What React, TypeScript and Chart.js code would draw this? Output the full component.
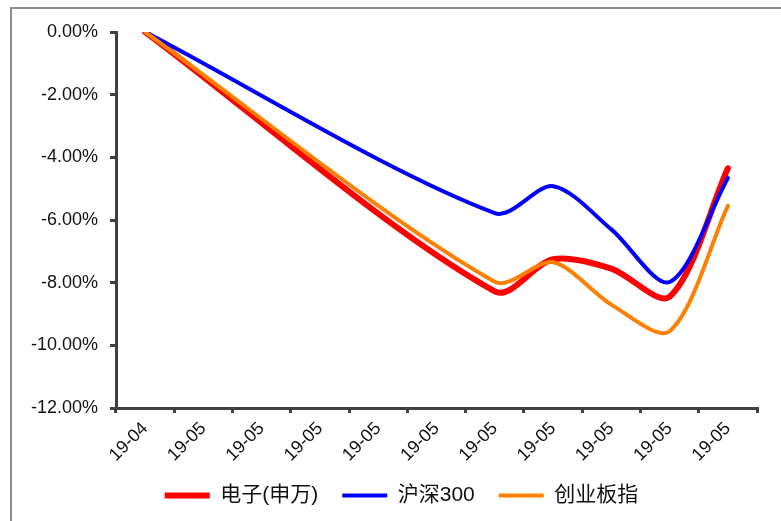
import React, { useEffect, useRef } from 'react';
import { Chart, registerables } from 'chart.js';

Chart.register(...registerables);

const categories = ['19-04', '19-05', '19-05', '19-05', '19-05', '19-05', '19-05', '19-05', '19-05', '19-05', '19-05'];
const seriesNames = ['电子(申万)', '沪深300', '创业板指'];
const electronics = [0, null, null, null, null, null, -8.28, -7.25, -7.55, -8.45, -4.35];
const csi300 = [0, null, null, null, null, null, -5.78, -4.92, -6.3, -7.98, -4.66];
const chinext = [0, null, null, null, null, null, -7.97, -7.35, -8.7, -9.55, -5.55];
const yMin = -12;
const yMax = 0;
const yStep = 2;

const FONT = '"Liberation Sans", Arial, "Noto Sans CJK SC", sans-serif';

export default function App() {
  const ref = useRef<HTMLCanvasElement | null>(null);

  useEffect(() => {
    if (!ref.current) return;
    const legendShift = {
      id: 'legendShift',
      afterLayout(chart: any) {
        const l = chart.legend;
        if (l) {
          l.left += 13;
          l.right += 13;
        }
      },
    };
    const chart = new Chart(ref.current, {
      type: 'line',
      data: {
        labels: categories,
        datasets: [
          {
            label: seriesNames[0],
            data: electronics,
            borderColor: '#FF0000',
            backgroundColor: '#FF0000',
            borderWidth: 6,
            borderCapStyle: 'round',
            pointRadius: 0,
            tension: 0.3,
            spanGaps: true,
            order: 3,
          },
          {
            label: seriesNames[1],
            data: csi300,
            borderColor: '#0000FF',
            backgroundColor: '#0000FF',
            borderWidth: 4,
            borderCapStyle: 'round',
            pointRadius: 0,
            tension: 0.3,
            spanGaps: true,
            order: 2,
          },
          {
            label: seriesNames[2],
            data: chinext,
            borderColor: '#FF8000',
            backgroundColor: '#FF8000',
            borderWidth: 4,
            borderCapStyle: 'round',
            pointRadius: 0,
            tension: 0.3,
            spanGaps: true,
            order: 1,
          },
        ],
      },
      options: {
        animation: false,
        responsive: false,
        layout: { padding: { left: 20, right: 24, top: 32, bottom: 5 } },
        plugins: {
          tooltip: { enabled: false },
          legend: {
            position: 'bottom',
            labels: {
              usePointStyle: true,
              pointStyle: 'line',
              pointStyleWidth: 45,
              boxWidth: 45,
              padding: 24,
              color: '#111',
              font: { family: FONT, size: 21 },
              sort: (a: any, b: any) => a.datasetIndex - b.datasetIndex,
            },
          },
        },
        scales: {
          x: {
            type: 'category',
            offset: true,
            afterFit: (s: any) => {
              s.height = 53;
            },
            border: { color: '#404040', width: 3 },
            grid: {
              display: true,
              offset: true,
              drawOnChartArea: false,
              drawTicks: true,
              tickLength: 5,
              color: '#404040',
              lineWidth: 3,
            },
            ticks: {
              autoSkip: false,
              minRotation: 45,
              maxRotation: 45,
              padding: 5,
              color: '#111',
              font: { family: FONT, size: 18 },
            },
          },
          y: {
            min: yMin,
            max: yMax,
            afterFit: (s: any) => {
              s.width = 96;
            },
            border: { color: '#404040', width: 3 },
            grid: {
              display: true,
              drawOnChartArea: false,
              drawTicks: true,
              tickLength: 6,
              color: '#404040',
              lineWidth: 3,
            },
            ticks: {
              stepSize: yStep,
              padding: 12,
              color: '#111',
              font: { family: FONT, size: 18 },
              callback: (v: any) => Number(v).toFixed(2) + '%',
            },
          },
        },
      },
      plugins: [legendShift],
    });
    return () => chart.destroy();
  }, []);

  return (
    <div style={{ position: 'absolute', left: 0, top: 0, width: 781, height: 521, background: '#fff', overflow: 'hidden' }}>
      <div
        style={{
          position: 'absolute',
          left: 10,
          top: 7,
          width: 800,
          height: 600,
          borderTop: '2px solid #8c8c8c',
          borderLeft: '2px solid #8c8c8c',
        }}
      />
      <canvas ref={ref} width={781} height={521} style={{ position: 'absolute', left: 0, top: 0, width: 781, height: 521 }} />
    </div>
  );
}
